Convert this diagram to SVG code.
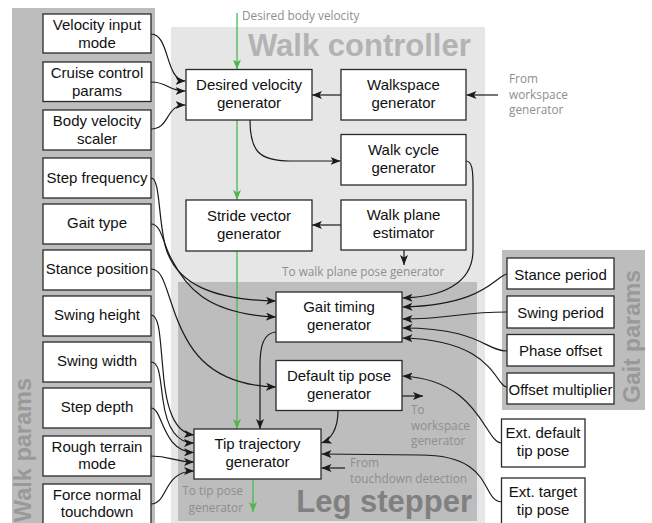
<svg xmlns="http://www.w3.org/2000/svg" width="652" height="523" viewBox="0 0 652 523">
<defs>
<style>
.box rect{fill:#fff;stroke:#2a2a2a;stroke-width:1.3}
.box text{font-family:"Liberation Sans",Arial,sans-serif;font-size:15px;fill:#111;text-anchor:middle}
.note{font-family:"Open Sans","Noto Sans",sans-serif;font-size:11.8px;fill:#8e8e8e}
.c{fill:none;stroke:#1a1a1a;stroke-width:1.2;marker-end:url(#ah)}
.g{fill:none;stroke:#4cb84c;stroke-width:1.3;marker-end:url(#gh)}
.title{font-family:"Liberation Sans",Arial,sans-serif;font-weight:bold}
</style>
<marker id="ah" viewBox="0 0 10 8" refX="10" refY="4" markerWidth="10" markerHeight="8" markerUnits="userSpaceOnUse" orient="auto"><path d="M0,0 L10,4 L0,8 L2.5,4 Z" fill="#1a1a1a"/></marker>
<marker id="gh" viewBox="0 0 10 8" refX="10" refY="4" markerWidth="10" markerHeight="8" markerUnits="userSpaceOnUse" orient="auto"><path d="M0,0 L10,4 L0,8 L2.5,4 Z" fill="#4cb84c"/></marker>
</defs>

<g id="panels">
<rect x="12" y="8" width="143" height="520" fill="#bdbdbd"/>
<rect x="171" y="27" width="314" height="500" fill="#e6e6e6"/>
<rect x="178" y="282" width="299" height="239" fill="#bdbdbd"/>
<rect x="502" y="250" width="143" height="160" fill="#bdbdbd"/>
<text class="title" x="248" y="56" font-size="31" fill="#b3b3b3">Walk controller</text>
<text class="title" x="472" y="511.5" font-size="31" fill="#808080" text-anchor="end">Leg stepper</text>
<text class="title" transform="translate(31,378) rotate(-90)" font-size="23.5" fill="#999" text-anchor="end">Walk params</text>
<text class="title" transform="translate(640,403) rotate(-90)" font-size="23" fill="#999">Gait params</text>
</g>

<g id="notes">
<text class="note" x="242" y="20">Desired body velocity</text>
<text class="note" x="509" y="83">From</text>
<text class="note" x="509" y="98.5">workspace</text>
<text class="note" x="509" y="114">generator</text>
<text class="note" x="282" y="275.5">To walk plane pose generator</text>
<text class="note" x="243" y="495" text-anchor="end">To tip pose</text>
<text class="note" x="243" y="511.5" text-anchor="end">generator</text>
<text class="note" x="411" y="414">To</text>
<text class="note" x="411" y="429.5">workspace</text>
<text class="note" x="411" y="445">generator</text>
<text class="note" x="350" y="467">From</text>
<text class="note" x="350" y="482.5">touchdown detection</text>
</g>

<g id="connectors">
<path class="g" d="M237,13 L237,69.5"/>
<path class="g" d="M237,120 L237,200"/>
<path class="g" d="M237,251 L237,429"/>
<path class="g" d="M253,479 L253,512"/>
<path class="c" d="M151,34 C170,34 165,81 185.5,81"/>
<path class="c" d="M151,82 C168,82 168,91 185.5,91"/>
<path class="c" d="M151,129 C170,129 165,105 185.5,105"/>
<path class="c" d="M341,95 L312,95"/>
<path class="c" d="M498,95 L466.5,95"/>
<path class="c" d="M250,120 C250,150 258,161 290,161 L340.5,161"/>
<path class="c" d="M341,225 L312,225"/>
<path class="c" d="M404,250 L404,265"/>
<path class="c" d="M466,161 C472,161 473,170 473,185 L473,250 C473,285 440,297 402.5,298"/>
<path class="c" d="M151,178 C160,178 158,215 165,245 C175,285 215,300 276,301"/>
<path class="c" d="M151,224 C162,224 163,245 172,260 C185,285 205,314 276,317"/>
<path class="c" d="M151,269 C162,269 165,285 172,305 C185,345 205,385 276,387"/>
<path class="c" d="M507,274 C495,276 485,305 402.5,307"/>
<path class="c" d="M507,312 C460,312 450,319 402.5,319"/>
<path class="c" d="M507,351 C485,351 480,328 402.5,328"/>
<path class="c" d="M507,387 C495,387 495,340 402.5,338"/>
<path class="c" d="M501.5,443 C485,443 480,380 402.5,376"/>
<path class="c" d="M402,396 L423,396"/>
<path class="c" d="M276,332 C264,333 260,345 260,365 L260,429"/>
<path class="c" d="M338,411 C338,430 330,440 321.5,443"/>
<path class="c" d="M501.5,502 C480,500 495,455 420,455 L321.5,454"/>
<path class="c" d="M345,468 L321.5,468"/>
<path class="c" d="M151,315 C160,315 160,340 163,370 C166,410 175,433 194,435"/>
<path class="c" d="M151,362 C160,362 160,380 163,400 C167,430 178,443 194,443"/>
<path class="c" d="M151,408 C163,408 162,452 194,452.5"/>
<path class="c" d="M151,456 C172,456 172,462 194,462"/>
<path class="c" d="M151,504 C168,504 163,471 194,471"/>
</g>

<g id="velocity-input-mode" class="box"><rect x="43" y="14" width="108" height="39"/><text x="97" y="30">Velocity input</text><text x="97" y="47.5">mode</text></g>
<g id="cruise-control-params" class="box"><rect x="43" y="62" width="108" height="39.5"/><text x="97" y="78">Cruise control</text><text x="97" y="95.5">params</text></g>
<g id="body-velocity-scaler" class="box"><rect x="43" y="110" width="108" height="40"/><text x="97" y="126">Body velocity</text><text x="97" y="143.5">scaler</text></g>
<g id="step-frequency" class="box"><rect x="43" y="158" width="108" height="40"/><text x="97" y="182.5">Step frequency</text></g>
<g id="gait-type" class="box"><rect x="43" y="204" width="108" height="40"/><text x="97" y="228">Gait type</text></g>
<g id="stance-position" class="box"><rect x="43" y="250" width="108" height="40"/><text x="97" y="274">Stance position</text></g>
<g id="swing-height" class="box"><rect x="43" y="296" width="108" height="40"/><text x="97" y="319.5">Swing height</text></g>
<g id="swing-width" class="box"><rect x="43" y="342" width="108" height="40"/><text x="97" y="365.5">Swing width</text></g>
<g id="step-depth" class="box"><rect x="43" y="388" width="108" height="40"/><text x="97" y="411.5">Step depth</text></g>
<g id="rough-terrain-mode" class="box"><rect x="43" y="436" width="108" height="40"/><text x="97" y="451.5">Rough terrain</text><text x="97" y="469">mode</text></g>
<g id="force-normal-touchdown" class="box"><rect x="43" y="484" width="108" height="42"/><text x="97" y="500">Force normal</text><text x="97" y="517">touchdown</text></g>

<g id="desired-velocity-generator" class="box"><rect x="186" y="69.5" width="126" height="50.5"/><text x="249" y="89.5">Desired velocity</text><text x="249" y="107.5">generator</text></g>
<g id="stride-vector-generator" class="box"><rect x="186" y="200" width="126" height="51"/><text x="249" y="220.5">Stride vector</text><text x="249" y="238.5">generator</text></g>
<g id="walkspace-generator" class="box"><rect x="341" y="69.5" width="125" height="50.5"/><text x="403.5" y="89.5">Walkspace</text><text x="403.5" y="107.5">generator</text></g>
<g id="walk-cycle-generator" class="box"><rect x="341" y="134.5" width="125" height="50.5"/><text x="403.5" y="154.5">Walk cycle</text><text x="403.5" y="172.5">generator</text></g>
<g id="walk-plane-estimator" class="box"><rect x="341" y="200" width="125" height="50"/><text x="403.5" y="220">Walk plane</text><text x="403.5" y="238">estimator</text></g>

<g id="gait-timing-generator" class="box"><rect x="276" y="292" width="126" height="50"/><text x="339" y="312">Gait timing</text><text x="339" y="330">generator</text></g>
<g id="default-tip-pose-generator" class="box"><rect x="276" y="360.5" width="126" height="50"/><text x="339" y="380.5">Default tip pose</text><text x="339" y="398.5">generator</text></g>
<g id="tip-trajectory-generator" class="box"><rect x="194" y="429" width="127" height="50"/><text x="257.5" y="449">Tip trajectory</text><text x="257.5" y="467">generator</text></g>

<g id="stance-period" class="box"><rect x="507" y="258" width="107" height="31"/><text x="560.5" y="279.5">Stance period</text></g>
<g id="swing-period" class="box"><rect x="507" y="296" width="107" height="32"/><text x="560.5" y="317.5">Swing period</text></g>
<g id="phase-offset" class="box"><rect x="507" y="334.5" width="107" height="31.5"/><text x="560.5" y="356">Phase offset</text></g>
<g id="offset-multiplier" class="box"><rect x="507" y="373" width="107" height="31"/><text x="560.5" y="394.5">Offset multiplier</text></g>

<g id="ext-default-tip-pose" class="box"><rect x="501.5" y="419" width="83.5" height="48"/><text x="543" y="438">Ext. default</text><text x="543" y="456">tip pose</text></g>
<g id="ext-target-tip-pose" class="box"><rect x="501.5" y="478" width="83.5" height="50"/><text x="543" y="497">Ext. target</text><text x="543" y="515">tip pose</text></g>
</svg>
